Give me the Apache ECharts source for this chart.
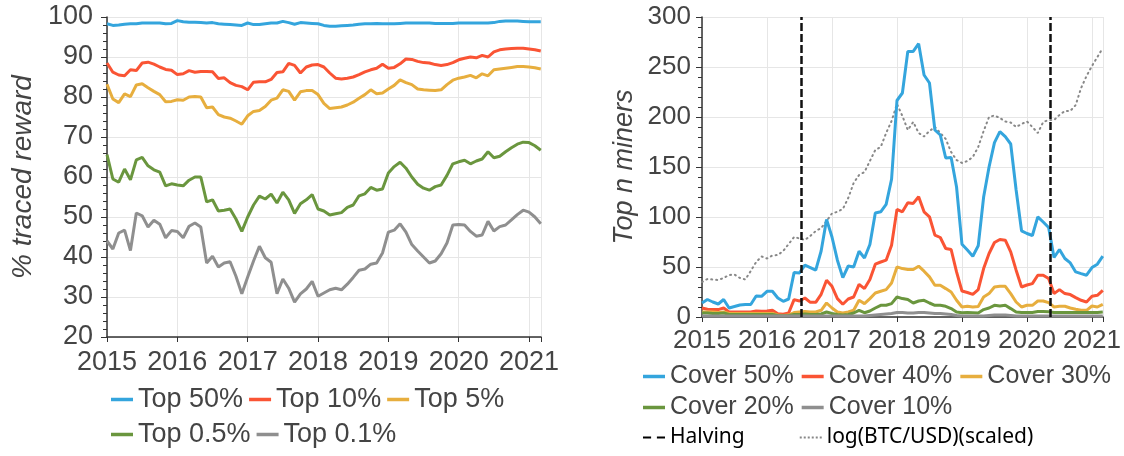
<!DOCTYPE html>
<html>
<head>
<meta charset="utf-8">
<script src="https://cdn.jsdelivr.net/npm/echarts@6/dist/echarts.min.js"></script>
<style>
  html, body { margin: 0; padding: 0; background: #fff; }
  #chart { width: 1124px; height: 456px; }
</style>
</head>
<body>
<div id="chart"></div>
<script>
// monthly samples, Jan 2015 .. Mar 2021
const months = [
  '2015-01','2015-02','2015-03','2015-04','2015-05','2015-06','2015-07','2015-08','2015-09','2015-10','2015-11','2015-12',
  '2016-01','2016-02','2016-03','2016-04','2016-05','2016-06','2016-07','2016-08','2016-09','2016-10','2016-11','2016-12',
  '2017-01','2017-02','2017-03','2017-04','2017-05','2017-06','2017-07','2017-08','2017-09','2017-10','2017-11','2017-12',
  '2018-01','2018-02','2018-03','2018-04','2018-05','2018-06','2018-07','2018-08','2018-09','2018-10','2018-11','2018-12',
  '2019-01','2019-02','2019-03','2019-04','2019-05','2019-06','2019-07','2019-08','2019-09','2019-10','2019-11','2019-12',
  '2020-01','2020-02','2020-03','2020-04','2020-05','2020-06','2020-07','2020-08','2020-09','2020-10','2020-11','2020-12',
  '2021-01','2021-02','2021-03'
]
const yearTicks = [2015, 2016, 2017, 2018, 2019, 2020, 2021]
const halvings = [2016.52, 2020.36]

// left: % traced reward
const top50 = [98.3,97.9,98.0,98.2,98.3,98.3,98.5,98.5,98.5,98.5,98.3,98.4,99.1,98.8,98.7,98.7,98.6,98.5,98.6,98.3,98.2,98.1,98.0,97.9,
  98.5,98.1,98.1,98.3,98.5,98.5,98.9,98.6,98.2,98.6,98.5,98.4,98.3,97.9,97.7,97.7,97.8,97.9,98.0,98.2,98.3,98.3,98.4,98.3,
  98.3,98.3,98.4,98.5,98.5,98.5,98.5,98.5,98.4,98.4,98.4,98.4,98.5,98.5,98.5,98.5,98.5,98.5,98.6,98.9,99.0,99.0,99.0,98.9,
  98.8,98.8,98.8]
const top10 = [88.5,86.2,85.5,85.3,86.8,86.6,88.5,88.7,88.2,87.5,86.9,86.7,85.6,85.8,86.6,86.2,86.4,86.4,86.3,84.6,84.8,83.6,82.9,82.6,
  81.8,83.7,83.8,83.8,84.4,86.1,86.3,88.4,87.9,86.0,87.5,88.0,88.1,87.5,86.0,84.7,84.5,84.7,85.0,85.6,86.3,86.8,87.2,88.2,
  87.2,87.4,88.3,89.5,89.4,88.9,88.6,88.5,88.1,87.9,88.1,88.6,89.3,89.7,90.0,89.8,90.4,90.0,91.3,91.8,92.0,92.1,92.2,92.2,
  92.0,91.8,91.5]
const top5 = [83.2,79.5,78.6,80.8,80.1,83.0,83.3,82.3,81.4,80.6,78.8,78.9,79.3,79.2,80.0,80.1,80.0,77.3,77.5,75.6,75.0,74.7,74.0,73.2,
  75.3,76.4,76.6,77.6,79.2,79.7,81.8,81.4,79.2,81.3,81.6,81.6,80.6,78.4,77.1,77.3,77.5,78.0,78.7,79.7,80.6,81.8,80.8,81.0,
  82.0,82.9,84.3,83.6,83.1,82.0,81.8,81.7,81.6,81.8,83.1,84.2,84.7,85.0,85.4,84.8,85.8,85.3,86.8,87.0,87.2,87.4,87.6,87.6,
  87.5,87.3,87.0]
const top05 = [65.6,59.5,58.7,62.0,59.3,64.3,64.9,62.8,61.8,61.2,57.8,58.3,58.0,57.8,59.2,60.0,60.0,53.8,54.3,51.5,51.7,52.0,49.5,46.4,
  50.0,53.0,55.2,54.5,55.7,53.5,56.2,54.3,50.9,53.3,54.3,55.6,52.0,51.5,50.5,50.8,51.1,52.4,53.0,55.3,55.8,57.4,56.7,57.0,
  61.0,62.6,63.7,62.2,60.0,58.2,57.2,56.7,57.6,58.0,60.4,63.3,63.8,64.2,63.3,64.0,64.5,66.3,64.8,65.2,66.3,67.3,68.2,68.7,
  68.6,67.8,66.7]
const top01 = [44.0,42.0,46.0,46.7,41.6,51.0,50.3,47.5,49.2,48.2,44.8,46.6,46.4,44.8,47.7,48.5,47.5,38.5,40.2,37.5,38.5,38.8,35.2,30.8,
  35.0,39.0,42.7,39.8,38.7,30.8,34.5,32.2,28.7,30.8,32.0,33.9,30.2,31.0,31.8,32.2,31.8,33.2,34.9,36.7,37.0,38.2,38.5,41.0,
  46.2,46.7,48.3,46.2,43.1,41.5,40.0,38.5,39.0,40.8,43.5,48.0,48.1,48.0,46.4,45.2,45.5,48.9,46.5,47.6,48.0,49.3,50.6,51.7,
  51.2,50.0,48.3]

// right: top n miners
const cover50 = [14,17.5,15,13,17.5,9,10.5,12,12.5,12.5,21,20.7,25.7,25.7,19,15.7,18,44.4,44.1,51.8,49.4,46.8,66,97.6,
  80,56.8,39.4,51,50,65.8,59,72.5,104,105.2,112.6,137.7,216.5,224,265.6,265.6,273.3,242,234,187,182,159,159.4,130,
  72.8,67,60.8,71.2,120,150,174.4,185.4,180.4,173,127,86.2,83.5,81.5,100.2,95,89.5,59.5,67.5,58.5,54.1,45.1,43.4,41.8,
  49.4,52.8,60.8]
const cover40 = [9,7.7,7.4,7.4,9,5,5,5,5,5,6,5.7,6,6.7,3.3,2.7,4,17.4,16,19,14.7,14.7,22.7,36.8,
  30.7,18.4,12.7,18,20,32.7,28.4,37.4,52.8,55,56.8,71.8,107.6,105.2,114.3,113.6,120.3,105.2,100.2,81.9,79.5,68.5,67.5,45.1,
  26,24.5,22.7,27.4,48.4,63.5,74.5,77.5,76.8,65.2,46.8,30,32,33.4,41.8,41.8,38.4,23.4,27.4,23.4,22.4,19.4,16.7,15,
  20.7,21.7,26.7]
const cover30 = [5,5,5,4.5,5,3.5,3.5,3.5,3.5,3.5,3.5,3.5,3.5,3.5,2,1.5,2,4.5,5,5.5,5,5,6.7,14,
  9,5,4,5,6.7,16.7,13.4,18.4,24,25.7,27.4,34,50.1,48.4,47.4,47.4,50.8,45.8,40.1,31.7,31.7,28.4,25,16.7,
  10,10.7,10,10.5,20,23.4,30,30.7,30.7,23.4,15,10,11.7,11.7,16,16,14.4,10,10.7,10.7,9,7.7,6.7,6.7,
  11,10,12.7]
const cover20 = [4,4,3.5,3.5,4,2.5,2.5,2.5,2.5,2.5,2.5,2.5,2.5,2.5,1.5,1.2,1.5,2.5,2.5,3,2.5,2.5,3,5,
  3.5,2.5,2,2.5,4,6.7,4.3,6,9,11.7,11.7,13.4,20,18.4,17.4,14,16,16.7,14,11.7,11.7,10.7,8.4,5,
  4.3,4.5,4.3,4,7.4,9,11.7,11,11.7,8.4,5,4.5,4.5,4.5,5.5,5.5,5.3,4.5,4.5,4.5,4.5,4.5,4.5,4.5,
  4.5,4.5,5]
const cover10 = [1,1,1,1,1,1,1,1,1,1,1,1,1,1,1,1,1,1,1,1,1,1,1,1,
  1,1,1,1,1,1,1,1.5,2,2.5,3,3.5,4.5,4.5,4,4,4.5,4.5,4,3.5,3.5,3,2.5,1.5,
  1,1,1,1,1,1.5,2,2,2,1.5,1,1,1,1,1,1,1,1,1,1,1,1,1,1,
  1,1,1]
const btcLog = [35,38,37.5,37,39,42,42.5,39,37.5,46,55,60.5,58.5,61.5,62,66,73,80,78.5,77,81,86,89,96,
  103.6,105.2,108,119,134,142,145,156,167,170,184,196,213,201,187,195,184,180.5,186,190,184,178,165,157,
  154,156,160,170,186,200,201.5,199,195.5,194.5,190,193,195.5,190,184,195,197,197,202,206,206,212,229,241,
  251,260,269]

const toYear = s => {
  const [y, m] = s.split('-').map(Number)
  return y + (m - 1) / 12
}
const xs = months.map(toYear)
const pairs = vals => vals.map((v, i) => [xs[i], v])

const FONT = '"Liberation Sans", Arial, sans-serif'
const colors = { blue: '#34a5dd', red: '#fa5434', yellow: '#e7ae3e', green: '#6a963e', gray: '#8f8f8f' }

// legend glyphs for the dashed / dotted entries
const dashIcon = 'path://M0,0h7v2h-7z M12,0h7v2h-7z'
const dotIcon = 'path://M0,0h2v2h-2z M4,0h2v2h-2z M8,0h2v2h-2z M12,0h2v2h-2z M16,0h2v2h-2z M20,0h2v2h-2z'

function xAxisCfg (gridIndex, fontSize, margin) {
  return {
    type: 'value', gridIndex, min: 2015, max: 2021.17, interval: 1,
    axisLine: { show: true, lineStyle: { color: '#333', width: 1.5 } },
    axisTick: { show: true, length: 5, lineStyle: { color: '#333' } },
    axisLabel: {
      fontSize, color: '#444', fontFamily: FONT, margin,
      formatter: v => yearTicks.includes(Math.round(v * 1000) / 1000) ? String(Math.round(v)) : ''
    },
    splitLine: { show: true, lineStyle: { color: '#e6e6e6' } }
  }
}

function yAxisCfg (gridIndex, min, max, interval, name, nameGap, fontSize, margin) {
  return {
    type: 'value', gridIndex, min, max, interval,
    name, nameLocation: 'middle', nameGap,
    nameTextStyle: { fontSize: fontSize + 1, fontStyle: 'italic', color: '#444', fontFamily: FONT },
    axisLine: { show: true, lineStyle: { color: '#333', width: 1.5 } },
    axisTick: { show: true, length: 6, lineStyle: { color: '#333' } },
    minorTick: { show: true, splitNumber: 5, length: 4, lineStyle: { color: '#333' } },
    axisLabel: { fontSize, color: '#444', fontFamily: FONT, margin },
    splitLine: { show: true, lineStyle: { color: '#e6e6e6' } }
  }
}

function lineSeries (name, vals, color, axis) {
  return {
    name, type: 'line', xAxisIndex: axis, yAxisIndex: axis,
    data: pairs(vals), showSymbol: false, symbol: 'none',
    lineStyle: { color, width: 3 }, itemStyle: { color }
  }
}

function legendRow (left, top, names, fontSize, extra) {
  return Object.assign({
    left, top, padding: 0, itemGap: 6, itemWidth: 22, itemHeight: 3.5,
    icon: 'rect', symbolKeepAspect: false,
    data: names, textStyle: { fontSize, color: '#444', fontFamily: FONT }
  }, extra || {})
}

const chart = echarts.init(document.getElementById('chart'))
chart.setOption({
  animation: false,
  backgroundColor: '#fff',
  grid: [
    { left: 107, top: 17, width: 434, height: 320 },
    { left: 702, top: 17, width: 401, height: 300 }
  ],
  xAxis: [xAxisCfg(0, 27, 12), xAxisCfg(1, 26, 11)],
  yAxis: [
    yAxisCfg(0, 20, 100, 10, '% traced reward', 70, 27, 14),
    yAxisCfg(1, 0, 300, 50, 'Top n miners', 64, 26, 11)
  ],
  legend: [
    legendRow(111, 386, ['Top 50%', 'Top 10%', 'Top 5%'], 27),
    legendRow(111, 421, ['Top 0.5%', 'Top 0.1%'], 27),
    legendRow(643, 364, ['Cover 50%', 'Cover 40%', 'Cover 30%'], 25, { itemGap: 8 }),
    legendRow(643, 395, ['Cover 20%', 'Cover 10%'], 25, { itemGap: 8 }),
    legendRow(643, 427, [
      { name: 'Halving', icon: dashIcon },
      { name: 'log(BTC/USD)(scaled)', icon: dotIcon }
    ], 21, {
      itemGap: 55, itemHeight: 2,
      textStyle: { fontSize: 21, color: '#000', fontFamily: '"Noto Sans", sans-serif' }
    })
  ],
  series: [
    lineSeries('Top 50%', top50, colors.blue, 0),
    lineSeries('Top 10%', top10, colors.red, 0),
    lineSeries('Top 5%', top5, colors.yellow, 0),
    lineSeries('Top 0.5%', top05, colors.green, 0),
    lineSeries('Top 0.1%', top01, colors.gray, 0),
    {
      name: 'log(BTC/USD)(scaled)', type: 'line', xAxisIndex: 1, yAxisIndex: 1,
      data: pairs(btcLog), showSymbol: false, symbol: 'none',
      lineStyle: { color: '#888', width: 2, type: [1, 4], cap: 'round' },
      itemStyle: { color: '#888' }
    },
    lineSeries('Cover 50%', cover50, colors.blue, 1),
    lineSeries('Cover 40%', cover40, colors.red, 1),
    lineSeries('Cover 30%', cover30, colors.yellow, 1),
    lineSeries('Cover 20%', cover20, colors.green, 1),
    lineSeries('Cover 10%', cover10, colors.gray, 1),
    {
      name: 'Halving', type: 'line', xAxisIndex: 1, yAxisIndex: 1,
      data: [], showSymbol: false, symbol: 'none',
      lineStyle: { color: '#000', width: 2 },
      itemStyle: { color: '#000' },
      markLine: {
        silent: true, symbol: 'none', animation: false,
        label: { show: false },
        lineStyle: { color: '#111', width: 2.5, type: [8, 3] },
        data: halvings.map(x => ({ xAxis: x }))
      }
    }
  ]
})
</script>
</body>
</html>
